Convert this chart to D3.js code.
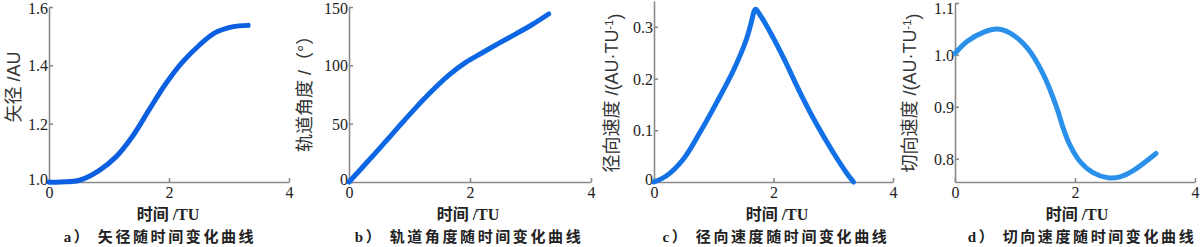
<!DOCTYPE html>
<html>
<head>
<meta charset="utf-8">
<script src="https://cdn.jsdelivr.net/npm/d3@7"></script>
<style>
  body { margin: 0; background: #fff; }
  svg { display: block; }
  .axis path, .axis line { stroke: #8a8a8a; stroke-width: 1.6; }
  .xtitle, .caption { font-family: "Liberation Serif", "Noto Sans CJK SC", serif; font-weight: bold; fill: #222; }
  .ytitle { font-family: "Liberation Sans", "Noto Sans CJK SC", sans-serif; font-size: 18px; fill: #333; }
</style>
</head>
<body>
<div id="canvas"></div>
<script>
// a) radius vs time
var tA = [0, 0.2, 0.51, 0.84, 1.12, 1.39, 1.67, 1.94, 2.22, 2.5, 2.77, 3.05, 3.32];
var rA = [0.999, 1.0, 1.006, 1.04, 1.087, 1.156, 1.248, 1.335, 1.41, 1.468, 1.512, 1.532, 1.537];
// b) orbit angle vs time
var tB = [0, 0.29, 0.56, 0.84, 1.11, 1.39, 1.66, 1.93, 2.21, 2.48, 2.76, 3.03, 3.3];
var angB = [0, 16.5, 32, 48.5, 64, 79, 92, 102.5, 111, 119, 127, 135, 144];
// c) radial velocity vs time
var tC = [0, 0.21, 0.49, 0.77, 1.05, 1.33, 1.55, 1.62, 1.7, 1.78, 1.88, 2.16, 2.44, 2.72, 3.0, 3.22, 3.34];
var vrC = [0, 0.012, 0.044, 0.096, 0.154, 0.216, 0.277, 0.305, 0.334, 0.322, 0.303, 0.242, 0.174, 0.112, 0.057, 0.018, 0];
// d) tangential velocity vs time
var tD = [0, 0.2, 0.48, 0.7, 0.92, 1.2, 1.47, 1.7, 1.8, 1.92, 2.08, 2.3, 2.55, 2.75, 2.97, 3.35];
var vtD = [1.003, 1.026, 1.044, 1.05, 1.042, 1.014, 0.963, 0.897, 0.86, 0.825, 0.795, 0.773, 0.763, 0.765, 0.777, 0.81];

var xTicks = [0, 2, 4];
var yTicksA = [1.0, 1.2, 1.4, 1.6];
var yTicksB = [0, 50, 100, 150];
var yTicksC = [0, 0.1, 0.2, 0.3];
var yTicksD = [0.8, 0.9, 1.0, 1.1];

var xTitle = "时间 /TU";
var captions = ["a）  矢径随时间变化曲线", "b）  轨道角度随时间变化曲线", "c）  径向速度随时间变化曲线", "d）  切向速度随时间变化曲线"];

var panels = [
  { t: tA, v: rA, yDomain: [1.0, 1.6], yTicks: yTicksA, fmt: d3.format(".1f"),
    xr: [49, 289], yr: [182, 7], color: "#0b5fe0",
    ytitle: ["矢径 /AU"], ytx: 14, yty: 87, anchor: "middle",
    xtx: 168, capx: 160 },
  { t: tB, v: angB, yDomain: [0, 150], yTicks: yTicksB, fmt: d3.format("d"),
    xr: [349, 591], yr: [182, 7], color: "#0d66e3",
    ytitle: ["轨道角度 /（°）"], ytx: 305, yty: 152, anchor: "start",
    xtx: 468, capx: 469 },
  { t: tC, v: vrC, yDomain: [0, 0.35], yTicks: yTicksC, fmt: function(d) { return d === 0 ? "0" : d3.format(".1f")(d); },
    xr: [654, 893], yr: [182, 1], color: "#1271e6",
    ytitle: ["径向速度 /(AU·TU", "-1", ")"], ytx: 612, yty: 93, anchor: "middle",
    xtx: 777, capx: 776 },
  { t: tD, v: vtD, yDomain: [0.755, 1.1], yTicks: yTicksD, fmt: d3.format(".1f"),
    xr: [955, 1195], yr: [182, 3], color: "#2a90ea",
    ytitle: ["切向速度 /(AU·TU", "-1", ")"], ytx: 910, yty: 93, anchor: "middle",
    xtx: 1077, capx: 1082 }
];

var svg = d3.select("#canvas").append("svg")
  .attr("width", 1200)
  .attr("height", 247);

panels.forEach(function(p, i) {
  var x = d3.scaleLinear().domain([0, 4]).range(p.xr);
  var y = d3.scaleLinear().domain(p.yDomain).range(p.yr);

  var g = svg.append("g");

  // axes, ticks pointing inwards
  var gx = g.append("g")
    .attr("class", "axis")
    .attr("transform", "translate(0," + p.yr[0] + ")")
    .call(d3.axisBottom(x).tickValues(xTicks).tickSize(-4).tickSizeOuter(0).tickPadding(5).tickFormat(d3.format("d")));
  var gy = g.append("g")
    .attr("class", "axis")
    .attr("transform", "translate(" + p.xr[0] + ",0)")
    .call(d3.axisLeft(y).tickValues(p.yTicks).tickSize(-4).tickSizeOuter(0).tickPadding(1).tickFormat(p.fmt));

  g.selectAll(".tick text")
    .attr("font-family", "Liberation Serif, DejaVu Serif, serif")
    .attr("font-size", 16)
    .attr("fill", "#222");
  // keep top labels inside the picture, lift the bottom one off the x labels
  gy.selectAll(".tick text")
    .attr("dy", function(d) {
      if (y(d) < 8) return (8 - y(d) + 5.5) + "px";
      if (y(d) > 175) return "2px";
      return "0.35em";
    });

  var line = d3.line()
    .x(function(d, j) { return x(p.t[j]); })
    .y(function(d) { return y(d); })
    .curve(d3.curveCatmullRom.alpha(0.5));

  g.append("path")
    .datum(p.v)
    .attr("fill", "none")
    .attr("stroke", p.color)
    .attr("stroke-width", 5)
    .attr("stroke-linecap", "round")
    .attr("stroke-linejoin", "round")
    .attr("d", line);

  // y title
  var yt = g.append("text")
    .attr("class", "ytitle")
    .attr("transform", "translate(" + p.ytx + "," + p.yty + ") rotate(-90)")
    .attr("dy", "0.35em")
    .attr("text-anchor", p.anchor);
  yt.append("tspan").text(p.ytitle[0]);
  if (p.ytitle.length > 1) {
    yt.append("tspan").attr("dy", "-0.45em").attr("font-size", "11px").text(p.ytitle[1]);
    yt.append("tspan").attr("dy", "0.45em").text(p.ytitle[2]);
  }

  // x title
  g.append("text")
    .attr("class", "xtitle")
    .attr("x", p.xtx)
    .attr("y", 220)
    .attr("text-anchor", "middle")
    .attr("font-size", "16px")
    .text(xTitle);

  // caption
  g.append("text")
    .attr("class", "caption")
    .attr("x", p.capx)
    .attr("y", 242)
    .attr("text-anchor", "middle")
    .attr("font-size", "15px")
    .attr("letter-spacing", "2.6px")
    .text(captions[i]);
});
</script>
</body>
</html>
